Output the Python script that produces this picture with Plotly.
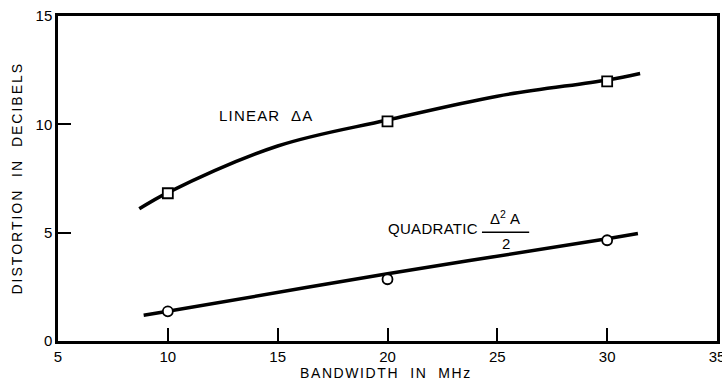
import plotly.graph_objects as go

# Curve readings (bandwidth MHz, distortion dB)
linear_curve_x = [8.7, 10, 15, 20, 25, 30, 31.5]
linear_curve_y = [6.1, 6.85, 9.0, 10.2, 11.3, 12.05, 12.35]
quad_curve_x = [8.9, 10, 20, 30, 31.4]
quad_curve_y = [1.19, 1.37, 3.1, 4.72, 4.96]

# Measured points
point_x = [10, 20, 30]
linear_points = [6.82, 10.14, 11.98]
quad_points = [1.37, 2.85, 4.65]

x_ticks = [5, 10, 15, 20, 25, 30, 35]
y_ticks = [0, 5, 10, 15]

FONT = "Liberation Sans, Arial, sans-serif"


def spaced(s, px=1):
    return f'<span style="letter-spacing:{px}px">{s}</span>'


fig = go.Figure()
fig.add_trace(go.Scatter(x=linear_curve_x, y=linear_curve_y, mode="lines",
                         line=dict(color="black", width=3.5, shape="spline", smoothing=1.0),
                         showlegend=False, hoverinfo="skip"))
fig.add_trace(go.Scatter(x=quad_curve_x, y=quad_curve_y, mode="lines",
                         line=dict(color="black", width=3.5, shape="spline", smoothing=1.0),
                         showlegend=False, hoverinfo="skip"))
fig.add_trace(go.Scatter(x=point_x, y=linear_points, mode="markers",
                         marker=dict(symbol="square", size=10, color="white",
                                     line=dict(color="black", width=1.8)),
                         showlegend=False))
fig.add_trace(go.Scatter(x=point_x, y=quad_points, mode="markers",
                         marker=dict(symbol="circle", size=10, color="white",
                                     line=dict(color="black", width=1.8)),
                         showlegend=False))

ann_font = dict(family=FONT, size=15, color="black")
fig.add_annotation(x=12.22, y=10.42, xref="x", yref="y", text=spaced("LINEAR  ΔA", 1.2),
                   showarrow=False, xanchor="left", yanchor="middle", font=ann_font)
fig.add_annotation(x=19.95, y=5.2, xref="x", yref="y", text=spaced("QUADRATIC", 0.3),
                   showarrow=False, xanchor="left", yanchor="middle", font=ann_font)
fig.add_annotation(x=25.35, y=5.72, xref="x", yref="y", text="Δ<sup>2</sup> A",
                   showarrow=False, xanchor="center", yanchor="middle", font=ann_font)
fig.add_annotation(x=25.4, y=4.5, xref="x", yref="y", text="2",
                   showarrow=False, xanchor="center", yanchor="middle", font=ann_font)
fig.add_shape(type="line", x0=24.3, x1=26.45, y0=5.02, y1=5.02, xref="x", yref="y",
              line=dict(color="black", width=1.5))

# Axis titles
fig.add_annotation(x=0.498, y=0, xref="paper", yref="paper", text=spaced("BANDWIDTH  IN  MHz", 1.6),
                   showarrow=False, xanchor="center", yanchor="top", yshift=-22,
                   font=dict(family=FONT, size=14, color="black"))
fig.add_annotation(x=0, y=0.5, xref="paper", yref="paper", text=spaced("DISTORTION  IN  DECIBELS", 2),
                   showarrow=False, xanchor="center", yanchor="middle", xshift=-42, textangle=-90,
                   font=dict(family=FONT, size=14, color="black"))

axis_common = dict(ticks="inside", ticklen=13, tickwidth=2, tickcolor="black",
                   showline=True, linecolor="black", linewidth=2.5, mirror=True,
                   showgrid=False, zeroline=False, automargin=False,
                   ticklabeloverflow="allow",
                   tickfont=dict(family=FONT, size=15, color="black"))
fig.update_xaxes(range=[5, 35], tickvals=x_ticks, **axis_common)
fig.update_yaxes(range=[0, 15], tickvals=y_ticks, **axis_common)

fig.update_layout(width=722, height=385, plot_bgcolor="white", paper_bgcolor="white",
                  margin=dict(l=58, r=5, t=16, b=44), showlegend=False)

fig.write_html("out.html", config={"displayModeBar": False},
               post_script="document.body.style.margin='0';")
